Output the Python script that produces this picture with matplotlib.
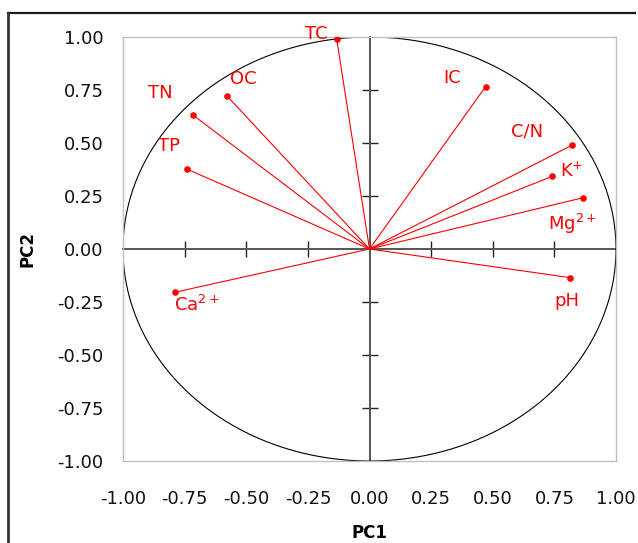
import numpy as np
import matplotlib
matplotlib.use("Agg")
import matplotlib.pyplot as plt
from matplotlib.lines import Line2D

# loadings
variables = ["TC", "OC", "TN", "TP", "IC", "C/N", "K$^{+}$", "Mg$^{2+}$", "pH", "Ca$^{2+}$"]
pc1 = [-0.133, -0.579, -0.715, -0.739, 0.471, 0.820, 0.742, 0.867, 0.813, -0.789]
pc2 = [0.989, 0.723, 0.631, 0.376, 0.766, 0.489, 0.343, 0.242, -0.135, -0.204]

# label offsets (points) relative to each loading point
label_dx = [-15, 12, -24, -13, -24, -32, 14, -8, -2, 16]
label_dy = [4, 12, 16, 17, 6, 10, 4, -19, -17, -9]

ticks = [-1.0, -0.75, -0.5, -0.25, 0.0, 0.25, 0.5, 0.75, 1.0]
inner_ticks = [-0.75, -0.5, -0.25, 0.25, 0.5, 0.75]

fig = plt.figure(figsize=(6.38, 5.43), dpi=100)
ax = fig.add_axes([123/638, 1 - 461/543, 493/638, 424/543])

# outer frame of the chart area (only top and left edges show)
top = 1 - 13.3/543
fig.add_artist(Line2D([8/638, 635/638], [top, top], transform=fig.transFigure,
                      color="#1a1a1a", lw=1.6))
fig.add_artist(Line2D([8/638, 8/638], [0, top], transform=fig.transFigure,
                      color="#333333", lw=2.0))

# unit circle
t = np.linspace(0, 2*np.pi, 400)
ax.plot(np.cos(t), np.sin(t), color="black", lw=0.8, zorder=2)

# loading vectors
for x, y in zip(pc1, pc2):
    ax.plot([0, x], [0, y], color="red", lw=0.8, zorder=3)
ax.scatter(pc1, pc2, s=14, color="red", zorder=4)

for name, x, y, dx, dy in zip(variables, pc1, pc2, label_dx, label_dy):
    ax.annotate(name, (x, y), xytext=(dx, dy), textcoords="offset points",
                ha="center", va="center", color="red", fontsize=13)

ax.set_xlim(-1, 1)
ax.set_ylim(-1, 1)
ax.set_xticks(ticks)
ax.set_yticks(ticks)
ax.xaxis.set_major_formatter(matplotlib.ticker.FormatStrFormatter("%.2f"))
ax.yaxis.set_major_formatter(matplotlib.ticker.FormatStrFormatter("%.2f"))
ax.tick_params(length=0, labelsize=13, colors="#111111")
ax.tick_params(axis="x", pad=21)
ax.tick_params(axis="y", pad=14)
for sp in ax.spines.values():
    sp.set_color("#c0c0c0")
    sp.set_linewidth(1.0)

# axes through the origin
sx = ax.secondary_xaxis(0.5)
sx.set_xticks(inner_ticks)
sx.tick_params(direction="inout", length=11, width=1.0, color="#222222",
               labelbottom=False, labeltop=False)
for side in ["bottom", "top"]:
    sx.spines[side].set_color("#555555")
    sx.spines[side].set_linewidth(1.4)
sy = ax.secondary_yaxis(0.5)
sy.set_yticks(inner_ticks)
sy.tick_params(direction="inout", length=11, width=1.0, color="#222222",
               labelleft=False, labelright=False)
for side in ["left", "right"]:
    sy.spines[side].set_color("#555555")
    sy.spines[side].set_linewidth(1.4)

ax.set_xlabel("PC1", fontsize=12, fontweight="bold")
ax.set_ylabel("PC2", fontsize=12, fontweight="bold")
ax.xaxis.set_label_coords(0.5, (461 - 524) / 424)
ax.yaxis.set_label_coords((36 - 123) / 493, 0.5)

fig.savefig("out.png", dpi=100)
